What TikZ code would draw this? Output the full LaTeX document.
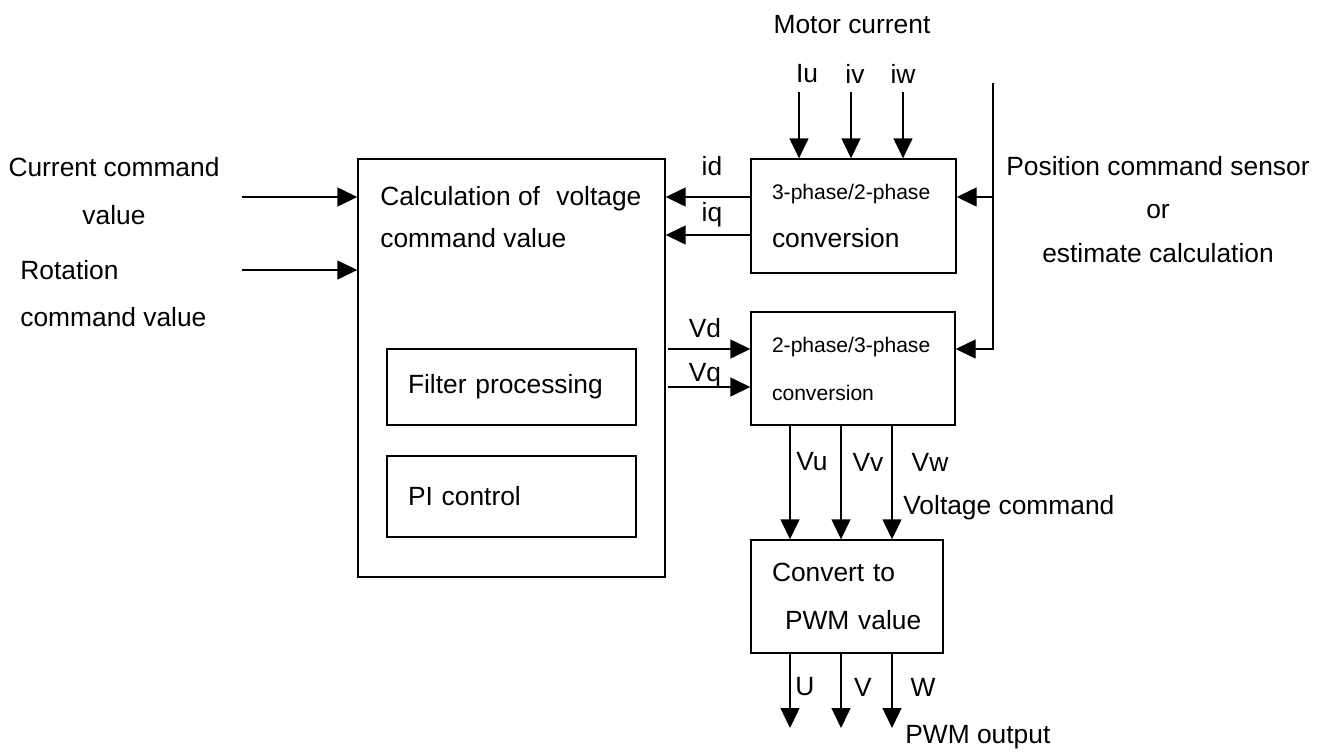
\documentclass[tikz,border=0pt]{standalone}
\usepackage{fontspec}
\setmainfont{Liberation Sans}
\usetikzlibrary{arrows.meta,positioning}

\begin{document}
\begin{tikzpicture}[
  x=0.2mm,y=-0.2mm,
  box/.style={draw,line width=0.8pt,inner sep=0pt,align=left,font=\fontsize{15}{27.3}\selectfont},
  lbl/.style={inner sep=0pt,font=\fontsize{15}{18}\selectfont},
  small/.style={font=\fontsize{12}{27.3}\selectfont},
  arr/.style={-{Triangle[length=4mm,width=3.8mm]},line width=0.8pt}
]
\useasboundingbox (0,0) rectangle (1329,751);
% blocks
\node[box,minimum width=61.4mm,minimum height=83.6mm] (calc) at (511.5,368) {};
\node[lbl,anchor=west,align=left,font=\fontsize{15}{23.8}\selectfont] (calctxt) at (380,217) {Calculation of\hspace{1.8mm} voltage\\command value};
\node[box,minimum width=49.8mm,minimum height=15.2mm,text width=41.4mm] (filter) at (511.5,387) {Filter processing};
\node[box,minimum width=49.8mm,minimum height=16.2mm,text width=41.4mm] (pi) at (511.5,496.5) {PI control};
\node[box,minimum width=41mm,minimum height=22.8mm,text width=32.6mm] (conv32) at (853.5,216) {{\fontsize{12}{27.3}\selectfont 3-phase/2-phase}\\conversion};
\node[box,small,minimum width=40.8mm,minimum height=22.6mm,text width=32.4mm] (conv23) at (853,368.5) {2-phase/3-phase\\conversion};
\node[box,minimum width=38.4mm,minimum height=22.6mm,text width=30mm] (pwm) at (847,596.5) {Convert to\\\hspace{2.6mm}PWM value};

% inputs on the left
\node[lbl,align=center,font=\fontsize{15}{27.3}\selectfont] (curtxt) at (114,191) {Current command\\value};
\node[lbl,anchor=west,align=left,font=\fontsize{15}{27}\selectfont] (rottxt) at (20,293.5) {Rotation\\command value};
\coordinate (cur) at (242,197);
\coordinate (rot) at (242,270);
\draw[arr] (cur) -- (cur -| calc.west);
\draw[arr] (rot) -- (rot -| calc.west);

% motor current
\node[lbl] (motor) at (852,25) {Motor current};
\node[lbl] (iu) at (807,74) {Iu};
\node[lbl] (iv) at (855,74) {iv};
\node[lbl] (iw) at (903,74) {iw};
\foreach \x in {799,851,903}
  \draw[arr] (\x,92) -- (conv32.north -| \x,0);

% id / iq
\coordinate (id) at (751,197);
\coordinate (iq) at (751,235);
\draw[arr] (id) -- (id -| calc.east);
\draw[arr] (iq) -- (iq -| calc.east);
\node[lbl] (idtxt) at (712,166) {id};
\node[lbl] (iqtxt) at (712,215) {iq};

% position feedback
\node[lbl,align=center,font=\fontsize{15}{24.7}\selectfont] (postxt) at (1158,209.5) {Position command sensor\\or\\estimate calculation};
\coordinate (ptop) at (993,83);
\coordinate (pmid) at (993,197);
\coordinate (pbot) at (993,349);
\draw[line width=0.8pt] (ptop) -- (pmid);
\draw[arr] (pmid) -- (pmid -| conv32.east);
\draw[arr] (pmid) -- (pbot) -- (pbot -| conv23.east);

% Vd / Vq
\coordinate (vd) at (668,349);
\coordinate (vq) at (668,387);
\draw[arr] (vd) -- (vd -| conv23.west);
\draw[arr] (vq) -- (vq -| conv23.west);
\node[lbl] (vdtxt) at (705,328) {Vd};
\node[lbl] (vqtxt) at (705,375) {Vq};

% voltage command
\foreach \x in {790,841,892}
  \draw[arr] (conv23.south -| \x,0) -- (pwm.north -| \x,0);
\node[lbl] (vu) at (812,462) {Vu};
\node[lbl] (vv) at (868,462) {Vv};
\node[lbl] (vw) at (930,462) {Vw};
\node[lbl,anchor=west] (volt) at (903,508) {Voltage command};

% pwm output
\foreach \x in {790,841,892}
  \draw[arr] (pwm.south -| \x,0) -- (\x,728);
\node[lbl] (u) at (805,687) {U};
\node[lbl] (v) at (863,687) {V};
\node[lbl] (w) at (923,687) {W};
\node[lbl,anchor=west] (pwmout) at (905,737) {PWM output};
\end{tikzpicture}
\end{document}
